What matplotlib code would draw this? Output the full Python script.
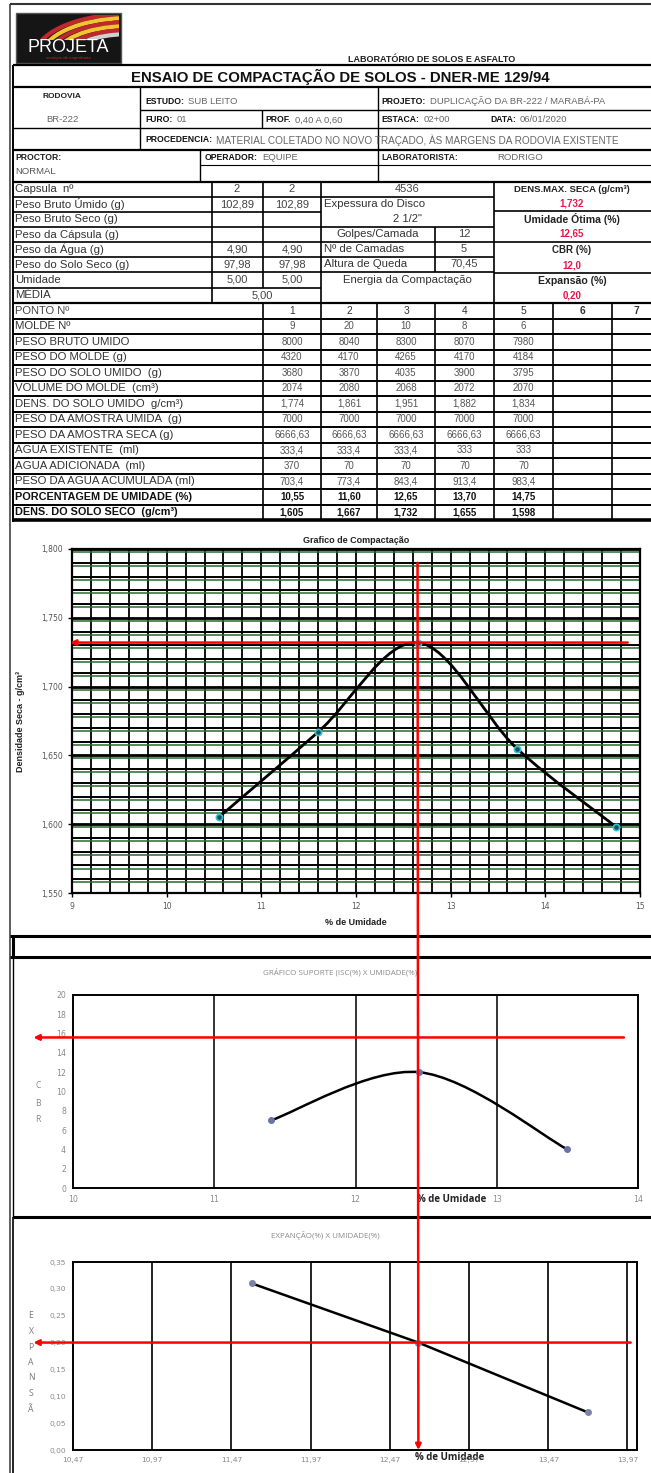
import numpy as np
import matplotlib.pyplot as plt
from matplotlib.path import Path
from matplotlib.patches import PathPatch, Rectangle, Arc, ConnectionPatch

W, H = 651, 1473

# ---------------- dados do ensaio ----------------
rodovia = 'BR-222'
estudo = 'SUB LEITO'
projeto = 'DUPLICAÇÃO DA BR-222 / MARABÁ-PA'
furo = '01'
prof = '0,40 A 0,60'
estaca = '02+00'
data_ensaio = '06/01/2020'
procedencia = 'MATERIAL COLETADO NO NOVO TRAÇADO, ÀS MARGENS DA RODOVIA EXISTENTE'
operador = 'EQUIPE'
laboratorista = 'RODRIGO'

cap_labels = ['Capsula  nº', 'Peso Bruto Úmido (g)', 'Peso Bruto Seco (g)', 'Peso da Cápsula (g)',
              'Peso da Água (g)', 'Peso do Solo Seco (g)', 'Umidade', 'MÉDIA']
cap_a = ['2', '102,89', '', '', '4,90', '97,98', '5,00']
cap_b = ['2', '102,89', '', '', '4,90', '97,98', '5,00']
media = '5,00'

cilindro = '4536'
espessura_disco = '2 1/2"'
golpes_camada = '12'
n_camadas = '5'
altura_queda = '70,45'

dens_max = '1,732'
umid_otima = '12,65'
cbr_final = '12,0'
expansao_final = '0,20'

pontos = ['1', '2', '3', '4', '5', '6', '7']
tab_labels = ['MOLDE Nº', 'PESO BRUTO UMIDO', 'PESO DO MOLDE (g)', 'PESO DO SOLO UMIDO  (g)',
              'VOLUME DO MOLDE  (cm³)', 'DENS. DO SOLO UMIDO  g/cm³)', 'PESO DA AMOSTRA UMIDA  (g)',
              'PESO DA AMOSTRA SECA (g)', 'AGUA EXISTENTE  (ml)', 'AGUA ADICIONADA  (ml)',
              'PESO DA AGUA ACUMULADA (ml)', 'PORCENTAGEM DE UMIDADE (%)', 'DENS. DO SOLO SECO  (g/cm³)']
molde = ['9', '20', '10', '8', '6']
peso_bruto = ['8000', '8040', '8300', '8070', '7980']
peso_molde = ['4320', '4170', '4265', '4170', '4184']
solo_umido = ['3680', '3870', '4035', '3900', '3795']
volume = ['2074', '2080', '2068', '2072', '2070']
dens_umido = ['1,774', '1,861', '1,951', '1,882', '1,834']
amostra_umida = ['7000', '7000', '7000', '7000', '7000']
amostra_seca = ['6666,63', '6666,63', '6666,63', '6666,63', '6666,63']
agua_exist = ['333,4', '333,4', '333,4', '333', '333']
agua_adic = ['370', '70', '70', '70', '70']
agua_acum = ['703,4', '773,4', '843,4', '913,4', '983,4']
umidade = ['10,55', '11,60', '12,65', '13,70', '14,75']
dens_seco = ['1,605', '1,667', '1,732', '1,655', '1,598']
tab_vals = [molde, peso_bruto, peso_molde, solo_umido, volume, dens_umido, amostra_umida,
            amostra_seca, agua_exist, agua_adic, agua_acum, umidade, dens_seco]

# graficos
umid_num = [float(v.replace(',', '.')) for v in umidade]
dens_num = [float(v.replace(',', '.')) for v in dens_seco]
cbr_umid = [11.4, 12.45, 13.5]
cbr_vals = [7, 12, 4]
exp_umid = [11.6, 12.65, 13.72]
exp_vals = [0.31, 0.20, 0.07]

NARROW = ['Liberation Sans Narrow', 'Liberation Sans', 'DejaVu Sans']
ARIAL = ['Liberation Sans', 'DejaVu Sans']
CALIB = ['Open Sans', 'DejaVu Sans']
RED = '#e8174a'


def box(l, t, r, b):
    return [l / W, 1 - b / H, (r - l) / W, (b - t) / H]


def curva_suave(ax, xs, ys, **kw):
    pts = np.column_stack([xs, ys]).astype(float)
    ext = np.vstack([pts[0], pts, pts[-1]])
    verts = [pts[0]]
    codes = [Path.MOVETO]
    for i in range(len(pts) - 1):
        p0, p1, p2, p3 = ext[i], ext[i + 1], ext[i + 2], ext[i + 3]
        verts += [p1 + (p2 - p0) / 6, p2 - (p3 - p1) / 6, p2]
        codes += [Path.CURVE4] * 3
    ax.add_patch(PathPatch(Path(verts, codes), fill=False, **kw))


fig = plt.figure(figsize=(W / 100, H / 100), dpi=100)
bg = fig.add_axes([0, 0, 1, 1])
bg.set_xlim(0, W)
bg.set_ylim(H, 0)
bg.axis('off')


def hl(y, x0, x1, lw=1.2, c='black'):
    bg.plot([x0, x1], [y, y], color=c, lw=lw, solid_capstyle='butt')


def vl(x, y0, y1, lw=1.2, c='black'):
    bg.plot([x, x], [y0, y1], color=c, lw=lw, solid_capstyle='butt')


def txt(x, y, s, size=7, weight='normal', color='#222222', ha='left', fam=NARROW):
    return bg.text(x, y, s, fontsize=size, fontweight=weight, color=color, ha=ha, va='center', family=fam)


def campo(x, y, rotulo, valor, size=6.2, vsize=6.8):
    t = txt(x, y, rotulo, size=size, weight='bold', color='#111111', fam=ARIAL)
    bg.annotate(valor, xy=(1, 0.5), xycoords=t, xytext=(3, 0), textcoords='offset points',
                fontsize=vsize, color='#666666', va='center', ha='left', family=NARROW)


# ---------------- cabecalho ----------------
vl(10, 4, H, 1.2, '#444444')
hl(4, 10, W, 1.5, '#333333')

bg.add_patch(Rectangle((16, 13), 105, 50, facecolor='#151515', edgecolor='#555555', lw=1))
for k, cor in enumerate(['#c0282d', '#f2c530', '#c0282d', '#f2c530', '#c0282d', '#d0d0d0']):
    a = Arc((130, 56), 190 - k * 14, 84 - k * 8, theta1=185, theta2=285, color=cor, lw=3.0)
    bg.add_patch(a)
    a.set_clip_path(Rectangle((18, 15), 101, 25, transform=bg.transData))
txt(68, 48, 'PROJETA', size=13, color='white', ha='center', fam=ARIAL)
txt(68, 58, 'serviços de engenharia', size=3.2, color='#c0282d', ha='center', fam=ARIAL)

txt(432, 60, 'LABORATÓRIO DE SOLOS E ASFALTO', size=6.5, weight='bold', ha='center', fam=ARIAL)
txt(340, 77, 'ENSAIO DE COMPACTAÇÃO DE SOLOS - DNER-ME 129/94', size=10.8, weight='bold',
    ha='center', color='#111111', fam=ARIAL)

for y in [65, 87, 150, 182]:
    hl(y, 13, W, 1.6)
hl(110, 140, W, 1.0)
hl(128, 13, W, 1.0)
hl(165, 200, W, 0.8)
vl(13, 65, 522, 1.4)
vl(140, 87, 150, 1.0)
vl(262, 110, 128, 1.0)
vl(378, 87, 182, 1.0)
vl(200, 150, 182, 1.0)

txt(62, 96, 'RODOVIA', size=6, weight='bold', ha='center', fam=ARIAL)
txt(62, 120, rodovia, size=6.8, color='#666666', ha='center')
campo(145, 101, 'ESTUDO:', estudo)
campo(381, 101, 'PROJETO:', projeto)
campo(145, 120, 'FURO:', furo)
campo(265, 120, 'PROF.', prof)
campo(381, 120, 'ESTACA:', estaca)
campo(490, 120, 'DATA:', data_ensaio)
campo(145, 140, 'PROCEDENCIA:', procedencia, vsize=7.2)
txt(15, 158, 'PROCTOR:', size=6.2, weight='bold', fam=ARIAL)
txt(15, 172, 'NORMAL', size=6.8, color='#555555')
campo(205, 157, 'OPERADOR:', operador)
txt(381, 157, 'LABORATORISTA:', size=6.2, weight='bold', fam=ARIAL)
txt(497, 157, laboratorista, size=6.8, color='#666666')

# ---------------- tabela superior ----------------
ry = [182, 197, 212, 227, 242, 257, 272, 288, 303]
for y in ry[1:]:
    hl(y, 13, 321, 1.2)
for y in [197, 227, 242, 257, 272]:
    hl(y, 321, 494, 1.2)
for y in [211, 242, 273]:
    hl(y, 494, W, 1.2)
hl(303, 13, W, 1.6)
vl(212, 182, 303)
vl(263, 182, 288)
vl(321, 182, 303)
vl(435, 227, 272)
vl(494, 182, 303)

for i, lab in enumerate(cap_labels):
    yc = (ry[i] + ry[i + 1]) / 2
    txt(15, yc, lab, size=8.2, color='#333333')
    if i < len(cap_a):
        txt(237, yc, cap_a[i], size=8.0, ha='center', color='#444444')
        txt(292, yc, cap_b[i], size=8.0, ha='center', color='#444444')
txt(262, (ry[7] + ry[8]) / 2, media, size=8.0, ha='center', color='#444444')

txt(407, 189, cilindro, size=8.0, ha='center', color='#444444')
txt(324, 204, 'Expessura do Disco', size=8.2, color='#333333')
txt(407, 219, espessura_disco, size=8.0, ha='center', color='#333333')
txt(378, 234, 'Golpes/Camada', size=8.2, ha='center', color='#333333')
txt(464, 234, golpes_camada, size=8.0, ha='center', color='#444444')
txt(324, 249, 'Nº de Camadas', size=8.2, color='#333333')
txt(464, 249, n_camadas, size=8.0, ha='center', color='#444444')
txt(324, 264, 'Altura de Queda', size=8.2, color='#333333')
txt(464, 264, altura_queda, size=8.0, ha='center', color='#444444')
txt(407, 280, 'Energia da Compactação', size=8.2, ha='center', color='#333333')

txt(572, 189, 'DENS.MAX. SECA (g/cm³)', size=6.8, weight='bold', ha='center', fam=ARIAL)
txt(572, 204, dens_max, size=7, weight='bold', ha='center', color=RED, fam=ARIAL)
txt(572, 219, 'Umidade Ótima (%)', size=7.6, weight='bold', ha='center', fam=ARIAL)
txt(572, 234, umid_otima, size=7, weight='bold', ha='center', color=RED, fam=ARIAL)
txt(572, 250, 'CBR (%)', size=7, weight='bold', ha='center', fam=ARIAL)
txt(572, 265, cbr_final, size=7, weight='bold', ha='center', color=RED, fam=ARIAL)
txt(572, 281, 'Expansão (%)', size=7.6, weight='bold', ha='center', fam=ARIAL)
txt(572, 296, expansao_final, size=7, weight='bold', ha='center', color=RED, fam=ARIAL)

# ---------------- tabela inferior ----------------
ly = [303 + 15.5 * i for i in range(15)]
for y in ly[1:-1]:
    hl(y, 13, W, 1.4)
hl(ly[-1], 13, W, 2.6)
col_x = [263, 321, 377, 435, 494, 553, 612]
for x in col_x:
    vl(x, 303, ly[-1])
centros = [(col_x[i] + (col_x[i + 1] if i + 1 < len(col_x) else 660)) / 2 for i in range(len(col_x))]

txt(15, (ly[0] + ly[1]) / 2, 'PONTO Nº', size=8.0, color='#444444')
for c, p in zip(centros, pontos):
    txt(c, (ly[0] + ly[1]) / 2, p, size=7.4, ha='center', color='#333333',
        weight='bold' if p in ('6', '7') else 'normal', fam=ARIAL)
for i, (lab, vals) in enumerate(zip(tab_labels, tab_vals)):
    yc = (ly[i + 1] + ly[i + 2]) / 2
    forte = i >= len(tab_labels) - 2
    txt(15, yc, lab, size=7.8 if forte else 8.2, weight='bold' if forte else 'normal',
        color='#111111' if forte else '#333333', fam=ARIAL if forte else NARROW)
    for c, v in zip(centros, vals):
        txt(c, yc, v, size=7.0, ha='center', weight='bold' if forte else 'normal',
            color='#111111' if forte else '#555555', fam=ARIAL)

# ---------------- grafico de compactacao ----------------
ax1 = fig.add_axes(box(72, 549, 640, 893))
ax1.set_xlim(9, 15)
ax1.set_ylim(1.55, 1.80)
for x in np.arange(9, 15.01, 0.2):
    ax1.axvline(x, color='#111111', lw=1.4, zorder=1)
for k, y in enumerate(np.arange(1.55, 1.8001, 0.01)):
    ax1.axhline(y - 0.0022, color='#2a6a30', lw=1.1, zorder=1)
    ax1.axhline(y, color='black', lw=2.0 if k % 5 == 0 else 1.4, zorder=1)
curva_suave(ax1, umid_num, dens_num, color='black', lw=2.0, zorder=3)
ax1.plot(umid_num, dens_num, 'o', ms=4.5, mfc='#1f4e5a', mec='#2ec4d6', mew=1.2, zorder=4)
dens_ticks = [1.55, 1.60, 1.65, 1.70, 1.75, 1.80]
ax1.set_yticks(dens_ticks)
ax1.set_yticklabels([f'{v:.3f}'.replace('.', ',') for v in dens_ticks])
ax1.set_xticks(range(9, 16))
ax1.tick_params(labelsize=5.5, labelcolor='#555555', length=3, width=1)
for s in ax1.spines.values():
    s.set_linewidth(1.6)
ax1.set_xlabel('% de Umidade', fontsize=6.5, fontweight='bold', color='#222222', labelpad=5, family=ARIAL)
ax1.set_ylabel('Densidade Seca - g/cm³', fontsize=6.5, fontweight='bold', color='#222222', labelpad=12, family=ARIAL)
ax1.set_title('Grafico de Compactação', fontsize=6.5, fontweight='bold', color='#222222', pad=4, family=ARIAL)

hl(936, 10, W, 2.2)
hl(957, 10, W, 2.2)
vl(13, 936, 957, 2.2)
vl(13, 957, 1217, 1.0)
hl(1217, 13, W, 2.2)
vl(13, 1217, H, 1.2)

# ---------------- grafico CBR ----------------
ax2 = fig.add_axes(box(73, 995, 638, 1188))
ax2.set_xlim(10, 14)
ax2.set_ylim(0, 20)
for x in [11, 12, 13]:
    ax2.axvline(x, color='#111111', lw=1.2, zorder=1)
curva_suave(ax2, cbr_umid, cbr_vals, color='black', lw=1.8, zorder=3)
ax2.plot(cbr_umid, cbr_vals, 'o', ms=4, color='#6a72a8', zorder=4)
ax2.set_xticks(range(10, 15))
ax2.set_yticks(range(0, 21, 2))
ax2.tick_params(labelsize=5.6, labelcolor='#8a8a8a', length=0, pad=5)
for s in ax2.spines.values():
    s.set_linewidth(1.4)
txt(340, 972, 'GRÁFICO SUPORTE (ISC(%) X UMIDADE(%)', size=5.8, color='#8a8a8a', ha='center', fam=CALIB)
txt(452, 1200, '% de Umidade', size=7, weight='bold', color='#222222', ha='center', fam=CALIB)
for k, letra in enumerate('CBR'):
    txt(38, 1086 + 17 * k, letra, size=6.2, color='#888888', ha='center', fam=CALIB)

# ---------------- grafico expansao ----------------
ax3 = fig.add_axes(box(73, 1262, 637, 1450))
ax3.set_xlim(10.47, 14.03)
ax3.set_ylim(0, 0.35)
exp_xticks = [10.47, 10.97, 11.47, 11.97, 12.47, 12.97, 13.47, 13.97]
for x in exp_xticks[1:]:
    ax3.axvline(x, color='#111111', lw=1.3, zorder=1)
ax3.plot(exp_umid, exp_vals, color='black', lw=1.8, zorder=3)
ax3.plot(exp_umid, exp_vals, 'o', ms=4, color='#7d82a8', zorder=4)
ax3.set_xticks(exp_xticks)
ax3.set_xticklabels([f'{v:.2f}'.replace('.', ',') for v in exp_xticks])
exp_yticks = [0, 0.05, 0.10, 0.15, 0.20, 0.25, 0.30, 0.35]
ax3.set_yticks(exp_yticks)
ax3.set_yticklabels([f'{v:.2f}'.replace('.', ',') for v in exp_yticks])
ax3.tick_params(labelsize=5.4, labelcolor='#8a8a8a', length=0, pad=5)
for s in ax3.spines.values():
    s.set_linewidth(1.4)
txt(325, 1236, 'EXPANÇÃO(%) X UMIDADE(%)', size=5.8, color='#8a8a8a', ha='center', fam=CALIB)
txt(450, 1457, '% de Umidade', size=7, weight='bold', color='#222222', ha='center', fam=CALIB)
for k, letra in enumerate('EXPANSÃ'):
    txt(31, 1316 + 15.5 * k, letra, size=6.2, color='#777777', ha='center', fam=CALIB)

# ---------------- linhas vermelhas de leitura ----------------
seta = dict(arrowstyle='-|>', color='red', lw=1.8, mutation_scale=8, zorder=10)
fig.add_artist(ConnectionPatch(xyA=(14.87, 1.732), coordsA=ax1.transData,
                               xyB=(8.98, 1.732), coordsB=ax1.transData, **seta))
fig.add_artist(ConnectionPatch(xyA=(13.9, 15.6), coordsA=ax2.transData,
                               xyB=(9.72, 15.6), coordsB=ax2.transData, **seta))
fig.add_artist(ConnectionPatch(xyA=(13.99, 0.20), coordsA=ax3.transData,
                               xyB=(10.22, 0.20), coordsB=ax3.transData, **seta))
fig.add_artist(ConnectionPatch(xyA=(12.65, 1.79), coordsA=ax1.transData,
                               xyB=(12.65, 0.0), coordsB=ax3.transData, **seta))

fig.savefig('out.png', dpi=100)
